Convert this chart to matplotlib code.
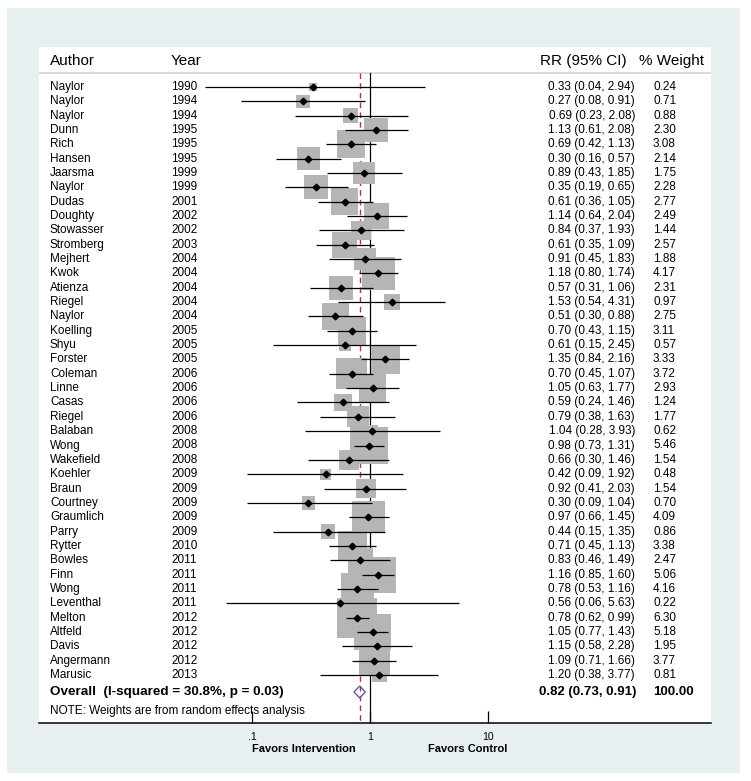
import numpy as np
import matplotlib.pyplot as plt
from matplotlib.patches import Rectangle, Polygon
from matplotlib.ticker import NullLocator

plt.rcParams['font.family'] = ['Liberation Sans', 'DejaVu Sans']

# DATA

authors = ["Naylor", "Naylor", "Naylor", "Dunn", "Rich", "Hansen", "Jaarsma",
           "Naylor", "Dudas", "Doughty", "Stowasser", "Stromberg", "Mejhert",
           "Kwok", "Atienza", "Riegel", "Naylor", "Koelling", "Shyu", "Forster",
           "Coleman", "Linne", "Casas", "Riegel", "Balaban", "Wong", "Wakefield",
           "Koehler", "Braun", "Courtney", "Graumlich", "Parry", "Rytter",
           "Bowles", "Finn", "Wong", "Leventhal", "Melton", "Altfeld", "Davis",
           "Angermann", "Marusic"]
years = [1990, 1994, 1994, 1995, 1995, 1995, 1999, 1999, 2001, 2002, 2002,
         2003, 2004, 2004, 2004, 2004, 2004, 2005, 2005, 2005, 2006, 2006,
         2006, 2006, 2008, 2008, 2008, 2009, 2009, 2009, 2009, 2009, 2010,
         2011, 2011, 2011, 2011, 2012, 2012, 2012, 2012, 2013]
rr = [0.33, 0.27, 0.69, 1.13, 0.69, 0.30, 0.89, 0.35, 0.61, 1.14, 0.84,
      0.61, 0.91, 1.18, 0.57, 1.53, 0.51, 0.70, 0.61, 1.35, 0.70, 1.05,
      0.59, 0.79, 1.04, 0.98, 0.66, 0.42, 0.92, 0.30, 0.97, 0.44, 0.71,
      0.83, 1.16, 0.78, 0.56, 0.78, 1.05, 1.15, 1.09, 1.20]
ci_low = [0.04, 0.08, 0.23, 0.61, 0.42, 0.16, 0.43, 0.19, 0.36, 0.64, 0.37,
          0.35, 0.45, 0.80, 0.31, 0.54, 0.30, 0.43, 0.15, 0.84, 0.45, 0.63,
          0.24, 0.38, 0.28, 0.73, 0.30, 0.09, 0.41, 0.09, 0.66, 0.15, 0.45,
          0.46, 0.85, 0.53, 0.06, 0.62, 0.77, 0.58, 0.71, 0.38]
ci_high = [2.94, 0.91, 2.08, 2.08, 1.13, 0.57, 1.85, 0.65, 1.05, 2.04, 1.93,
           1.09, 1.83, 1.74, 1.06, 4.31, 0.88, 1.15, 2.45, 2.16, 1.07, 1.77,
           1.46, 1.63, 3.93, 1.31, 1.46, 1.92, 2.03, 1.04, 1.45, 1.35, 1.13,
           1.49, 1.60, 1.16, 5.63, 0.99, 1.43, 2.28, 1.66, 3.77]
weights = [0.24, 0.71, 0.88, 2.30, 3.08, 2.14, 1.75, 2.28, 2.77, 2.49, 1.44,
           2.57, 1.88, 4.17, 2.31, 0.97, 2.75, 3.11, 0.57, 3.33, 3.72, 2.93,
           1.24, 1.77, 0.62, 5.46, 1.54, 0.48, 1.54, 0.70, 4.09, 0.86, 3.38,
           2.47, 5.06, 4.16, 0.22, 6.30, 5.18, 1.95, 3.77, 0.81]

overall_rr = 0.82
overall_low = 0.73
overall_high = 0.91
overall_label = "Overall  (I-squared = 30.8%, p = 0.03)"
note = "NOTE: Weights are from random effects analysis"

xticks = [0.1, 1, 10]
xtick_labels = [".1", "1", "10"]

# LAYOUT (pixel geometry of the original 751x781 export)

W, H = 751, 781
ax_left, ax_right, ax_top, ax_bottom = 39, 711, 47, 723
row0_px, row_step = 87, 14.34
x1_px, decade_px = 370, 118        # pixel of RR=1 and pixels per decade


def px_x(px):
    return (px - ax_left) / (ax_right - ax_left)


def row_of(py):
    return (py - row0_px) / row_step


fig = plt.figure(figsize=(W / 100, H / 100), dpi=100)
fig.patch.set_facecolor("white")
fig.patches.append(Rectangle((7 / W, 1 - 773 / H), (740 - 7) / W, (773 - 8) / H,
                             transform=fig.transFigure, facecolor="#e7eff1",
                             edgecolor="none", zorder=-5))

ax = fig.add_axes([ax_left / W, 1 - ax_bottom / H,
                   (ax_right - ax_left) / W, (ax_bottom - ax_top) / H])
ax.set_facecolor("white")
ax.set_xscale("log")
ax.set_xlim(10 ** ((ax_left - x1_px) / decade_px),
            10 ** ((ax_right - x1_px) / decade_px))
ax.set_ylim(row_of(ax_bottom), row_of(ax_top))

n = len(authors)
ys = np.arange(n)

# reference lines
y_line_top = row_of(73)
ax.axhline(y_line_top, color="#d4d4d4", lw=1.2, zorder=1)
ax.plot([1, 1], [y_line_top, row_of(ax_bottom)], color="black", lw=0.9, zorder=1)
ax.plot([overall_rr, overall_rr], [y_line_top, row_of(ax_bottom)],
        color="#9c3a55", lw=1.0, dashes=(4, 3), zorder=1)

# weight boxes (area proportional to weight)
ax.scatter(rr, ys, s=np.array(weights) * 132, marker="s", color="#b5b5b5",
           linewidths=0, zorder=2)

# confidence intervals and point estimates
ax.hlines(ys, ci_low, ci_high, color="black", lw=0.9, zorder=3)
ax.plot(rr, ys, "D", color="black", ms=3.4, zorder=4)

# overall diamond
y_ov = row_of(692)
h_ov = 6 / row_step
diamond = Polygon([(overall_low, y_ov), (overall_rr, y_ov - h_ov),
                   (overall_high, y_ov), (overall_rr, y_ov + h_ov)],
                  closed=True, facecolor="none", edgecolor="#5b5ba8",
                  lw=1.0, zorder=4)
ax.add_patch(diamond)

# TEXT COLUMNS

tr = ax.get_yaxis_transform()  # x in axes fraction, y in data
tx = px_x

y_head = row_of(61)
ax.text(tx(50), y_head, "Author", fontsize=11, va="center", transform=tr)
ax.text(tx(171), y_head, "Year", fontsize=11, va="center", transform=tr)
ax.text(tx(627), y_head, "RR (95% CI)", fontsize=11, va="center", ha="right",
        transform=tr)
ax.text(tx(639), y_head, "% Weight", fontsize=11, va="center", transform=tr)

for i in range(n):
    ax.text(tx(50), ys[i], authors[i], fontsize=8.5, va="center", transform=tr)
    ax.text(tx(171), ys[i], str(years[i]), fontsize=8.5, va="center", transform=tr)
    ax.text(tx(635), ys[i], f"{rr[i]:.2f} ({ci_low[i]:.2f}, {ci_high[i]:.2f})",
            fontsize=8.5, va="center", ha="right", transform=tr)
    ax.text(tx(653), ys[i], f"{weights[i]:.2f}", fontsize=8.5, va="center",
            transform=tr)

ax.text(tx(50), y_ov, overall_label, fontsize=9.7, fontweight="bold",
        va="center", transform=tr)
ax.text(tx(636), y_ov, f"{overall_rr:.2f} ({overall_low:.2f}, {overall_high:.2f})",
        fontsize=9.5, fontweight="bold", va="center", ha="right", transform=tr)
ax.text(tx(653), y_ov, "100.00", fontsize=9.5, fontweight="bold", va="center",
        transform=tr)
ax.text(tx(50), row_of(711), note, fontsize=8.5, va="center", transform=tr)

# AXIS

for side in ["top", "left", "right"]:
    ax.spines[side].set_visible(False)
ax.spines["bottom"].set_linewidth(1.1)
ax.set_yticks([])
ax.set_xticks(xticks)
ax.set_xticklabels(xtick_labels)
ax.xaxis.set_minor_locator(NullLocator())
ax.tick_params(axis="x", direction="in", length=9, width=0.9, pad=6.5,
               labelsize=7.5)

fig.text(304 / W, 1 - 749 / H, "Favors Intervention", fontsize=8,
         fontweight="bold", ha="center", va="center")
fig.text(468 / W, 1 - 749 / H, "Favors Control", fontsize=8,
         fontweight="bold", ha="center", va="center")

fig.savefig("out.png", dpi=100, facecolor=fig.get_facecolor())
